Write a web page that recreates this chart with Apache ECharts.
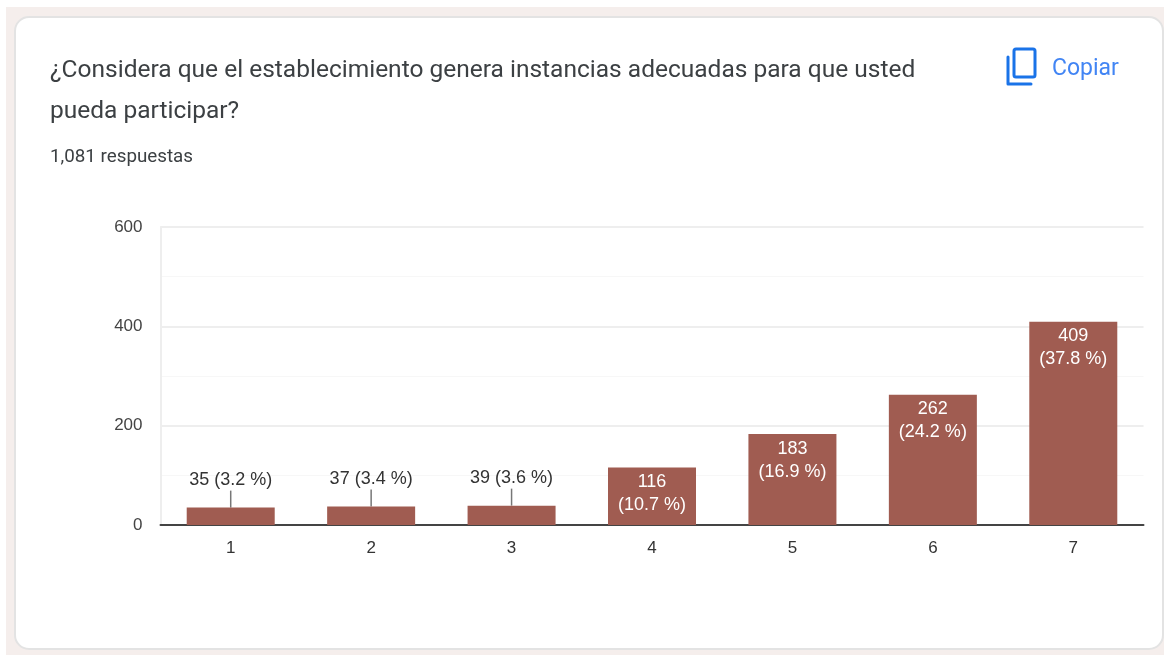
<!DOCTYPE html>
<html><head><meta charset="utf-8">
<style>html,body{margin:0;padding:0;background:#fff}#c{width:1164px;height:655px}</style>
<script src="https://cdn.jsdelivr.net/npm/echarts@6/dist/echarts.min.js"></script>
</head><body><div id="c"></div>
<script>
const categories = ['1','2','3','4','5','6','7'];
const values = [35,37,39,116,183,262,409];
const percents = ['3.2','3.4','3.6','10.7','16.9','24.2','37.8'];
const titleLines = ['¿Considera que el establecimiento genera instancias adecuadas para que usted','pueda participar?'];
const subtitleText = '1,081 respuestas';
const copyText = 'Copiar';
const smallLimit = 100;

const chart = echarts.init(document.getElementById('c'), null, {renderer:'canvas'});
const FONT = '"Liberation Sans", Arial, sans-serif';
chart.setOption({
  animation:false,
  backgroundColor:'#fff',
  graphic:[
    {type:'rect',z:-10,silent:true,shape:{x:6,y:7,width:1158,height:648},style:{fill:'#f5eeec'}},
    {type:'rect',z:-9,silent:true,shape:{x:15,y:17,width:1148,height:632,r:14},style:{fill:'#fff',stroke:'#e3e3e3',lineWidth:2}},
    {type:'text',x:50,y:58,style:{text:titleLines[0],font:'400 24.5px Roboto',fill:'#3c4043'}},
    {type:'text',x:50,y:99,style:{text:titleLines[1],font:'400 24.5px Roboto',fill:'#3c4043'}},
    {type:'text',x:50,y:148,style:{text:subtitleText,font:'400 18.8px Roboto',fill:'#3c4043'}},
    {type:'text',x:1052,y:58,style:{text:copyText,font:'400 23px Roboto',fill:'#4285f4'}},
    {type:'rect',silent:true,shape:{x:1014,y:49,width:21,height:28,r:2},style:{fill:'none',stroke:'#1a73e8',lineWidth:3}},
    {type:'polyline',silent:true,shape:{points:[[1008,57],[1008,84],[1031,84]]},style:{fill:'none',stroke:'#1a73e8',lineWidth:3,lineCap:'round',lineJoin:'round'}}
  ],
  grid:{left:160.5,top:227,width:983,height:298,containLabel:false},
  xAxis:{type:'category',data:categories,
    axisLine:{show:true,lineStyle:{color:'#444',width:2}},
    axisTick:{show:false},
    axisLabel:{color:'#333',fontFamily:FONT,fontSize:17,margin:15}},
  yAxis:{type:'value',min:0,max:600,interval:200,
    axisLine:{show:true,lineStyle:{color:'#eee',width:2}},
    axisTick:{show:false},
    minorTick:{show:false,splitNumber:2},
    minorSplitLine:{show:true,lineStyle:{color:'#f7f7f7',width:1}},
    splitLine:{show:true,lineStyle:{color:'#eeeeee',width:2}},
    axisLabel:{color:'#444',fontFamily:FONT,fontSize:17,margin:18,padding:[2,0,0,0]}},
  series:[{
    type:'bar',barWidth:88,
    itemStyle:{color:'#a05c51'},
    labelLayout:function(p){ return values[p.dataIndex]<smallLimit ? {dy:-17} : {}; },
    data:values.map((v,i)=>{
      const small=v<smallLimit;
      return {value:v,
        label:small
          ? {show:true,position:'top',distance:0,color:'#333',fontFamily:FONT,fontSize:18,lineHeight:22,formatter:v+' ('+percents[i]+' %)'}
          : {show:true,position:'insideTop',distance:3,color:'#fff',fontFamily:FONT,fontSize:18,lineHeight:23,fontWeight:500,formatter:v+'\n('+percents[i]+' %)'},
        labelLine:small?{show:true,lineStyle:{color:'#777',width:1.5}}:{show:false}};
    })
  }]
});
</script></body></html>
